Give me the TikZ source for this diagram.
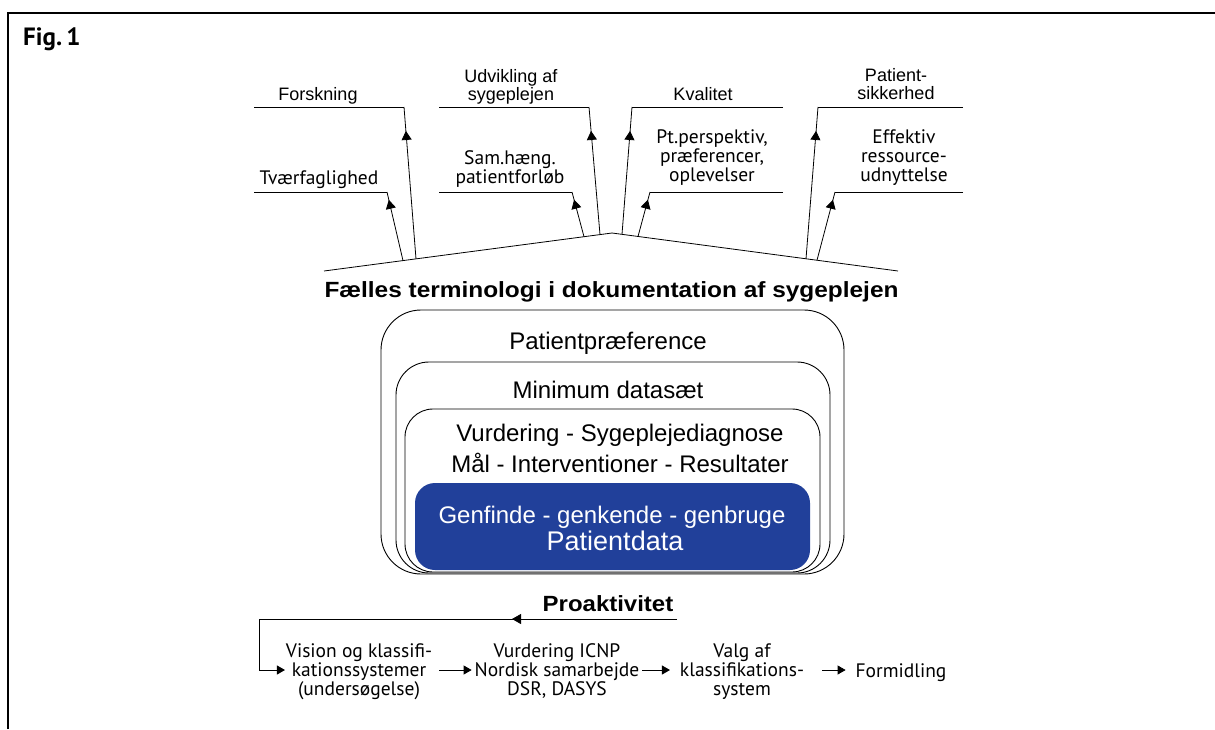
\documentclass[tikz,border=0pt]{standalone}
\usepackage{fontspec}
\setmainfont{Liberation Sans}
\newfontfamily\myr{PT Sans}
\usetikzlibrary{arrows.meta,decorations.markings,calc}
\definecolor{pblue}{RGB}{33,64,154}
\tikzset{
  hel/.style={font=\fontsize{18}{18}\selectfont, inner sep=0pt, outer sep=0pt, align=center},
  myrl/.style={font=\myr\fontsize{19.5}{19}\selectfont, inner sep=0pt, outer sep=0pt, align=center},
  boxt/.style={font=\fontsize{24}{31}\selectfont, inner sep=0pt, align=center},
  ln/.style={line width=0.8pt},
  upmark/.style={postaction={decorate}, decoration={markings, mark=at position #1 with {\arrow{Triangle[width=10pt,length=9pt]}}}},
  layer/.style={draw, fill=white, line width=0.9pt, inner sep=0pt, outer sep=0pt},
  ftip/.style={-{Triangle[width=9pt,length=8pt]}},
}
\begin{document}
\begin{tikzpicture}[x=1pt,y=-1pt]
\useasboundingbox (0,0) rectangle (1215,729);
\draw[line width=1.4pt] (8,729) -- (8,13) -- (1215,13);
\node[font=\myr\bfseries\fontsize{25}{25}\selectfont, anchor=base west, inner sep=0pt] (fig) at (23,45) {Fig.\,1};

% base roof line
\coordinate (bl) at (324,271);
\coordinate (ba) at (612,233);
\coordinate (br) at (898,271);
\draw[ln] (bl) -- (ba) -- (br);

% connector points
\coordinate (foB) at (416,258.9); \coordinate (foC) at (404,107); \coordinate (foE) at (254,107);
\coordinate (tvB) at (403,260.6); \coordinate (tvC) at (387,192); \coordinate (tvE) at (254,192);
\coordinate (udB) at (600,234.6); \coordinate (udC) at (589,107); \coordinate (udE) at (439,107);
\coordinate (saB) at (584,236.7); \coordinate (saC) at (572,192); \coordinate (saE) at (439,192);
\coordinate (kvB) at (622,234.3); \coordinate (kvC) at (632,107); \coordinate (kvE) at (783,107);
\coordinate (ptB) at (638,236.5); \coordinate (ptC) at (650,192); \coordinate (ptE) at (783,192);
\coordinate (psB) at (806,258.8); \coordinate (psC) at (818,107); \coordinate (psE) at (963,107);
\coordinate (efB) at (817,260.2); \coordinate (efC) at (835,192); \coordinate (efE) at (963,192);

\foreach \n/\d in {fo/24pt, ud/24pt, kv/24pt, ps/24pt, tv/8pt, sa/8pt, pt/8pt, ef/8pt}{
  \draw[ln] (\n E) -- (\n C);
  \draw[ln, upmark=-\d] (\n B) -- (\n C);
}

% labels
\node[hel, anchor=base] (fo) at (318,100) {Forskning};
\node[hel] (ud) at (511,86.4) {Udvikling af\\sygeplejen};
\node[hel, anchor=base] (kv) at (703,100) {Kvalitet};
\node[hel] (ps) at (896,84.5) {Patient-\\sikkerhed};
\node[myrl, anchor=base] (tv) at (319,184) {Tværfaglighed};
\node[myrl] (sa) at (510,169.3) {Sam.hæng.\\patientforløb};
\node[myrl] (pt) at (712,157.3) {Pt.perspektiv,\\præferencer,\\oplevelser};
\node[myrl] (ef) at (904,157.3) {Effektiv\\ressource-\\udnyttelse};

% title
\node[font=\bfseries\fontsize{22}{22}\selectfont, anchor=base, inner sep=0pt] (title) at (611.5,297) {\scalebox{1.11}[1]{Fælles terminologi i dokumentation af sygeplejen}};

% nested boxes
\node[layer, rounded corners=40pt, minimum width=463pt, minimum height=264pt] (b1) at (612.5,442) {};
\node[layer, rounded corners=33pt, minimum width=434pt, minimum height=211pt] (b2) at (613,467.5) {};
\node[layer, rounded corners=28pt, minimum width=415pt, minimum height=163pt] (b3) at (612.5,490.5) {};
\node[fill=pblue, rounded corners=20pt, minimum width=395pt, minimum height=87pt, inner sep=0pt] (b4) at (612.5,526.5) {};

\node[boxt, anchor=base] (pp) at (608,349) {Patientpræference};
\node[boxt, anchor=base] (md) at (608,398) {Minimum datasæt};
\node[boxt] (vs) at (620,448.8) {Vurdering - Sygeplejediagnose\\Mål - Interventioner - Resultater};
\node[boxt, anchor=base, text=white] (gg) at (612,523) {Genfinde - genkende - genbruge};
\node[font=\fontsize{27}{27}\selectfont, anchor=base, inner sep=0pt, text=white] (pd) at (615,550) {Patientdata};

% bottom process row
\node[font=\bfseries\fontsize{22}{22}\selectfont, anchor=base, inner sep=0pt] (pro) at (608,611) {\scalebox{1.09}[1]{Proaktivitet}};
\node[myrl] (v1) at (359,672) {Vision og klassifi-\\kationssystemer\\(undersøgelse)};
\node[myrl] (v2) at (557,671) {Vurdering ICNP\\Nordisk samarbejde\\DSR, DASYS};
\node[myrl] (v3) at (742,672) {Valg af\\klassifikations-\\system};
\node[myrl] (v4) at (901,673) {Formidling};

\coordinate (ay) at (0,670);
\coordinate (fbS) at (677,619);
\coordinate (fbL) at (259,619);
\draw[ln, upmark=165pt] (fbS) -- (fbL);
\draw[ln, ftip] (fbL) |- ($(v1.west |- ay)+(-1,0)$);
\draw[ln, ftip] ($(v1.east |- ay)+(7,0)$) -- ($(v2.west |- ay)+(-3,0)$);
\draw[ln, ftip] ($(v2.east |- ay)+(3,0)$) -- ($(v3.west |- ay)+(-10,0)$);
\draw[ln, ftip] ($(v3.east |- ay)+(18,0)$) -- ($(v4.west |- ay)+(-10,0)$);
\end{tikzpicture}
\end{document}
